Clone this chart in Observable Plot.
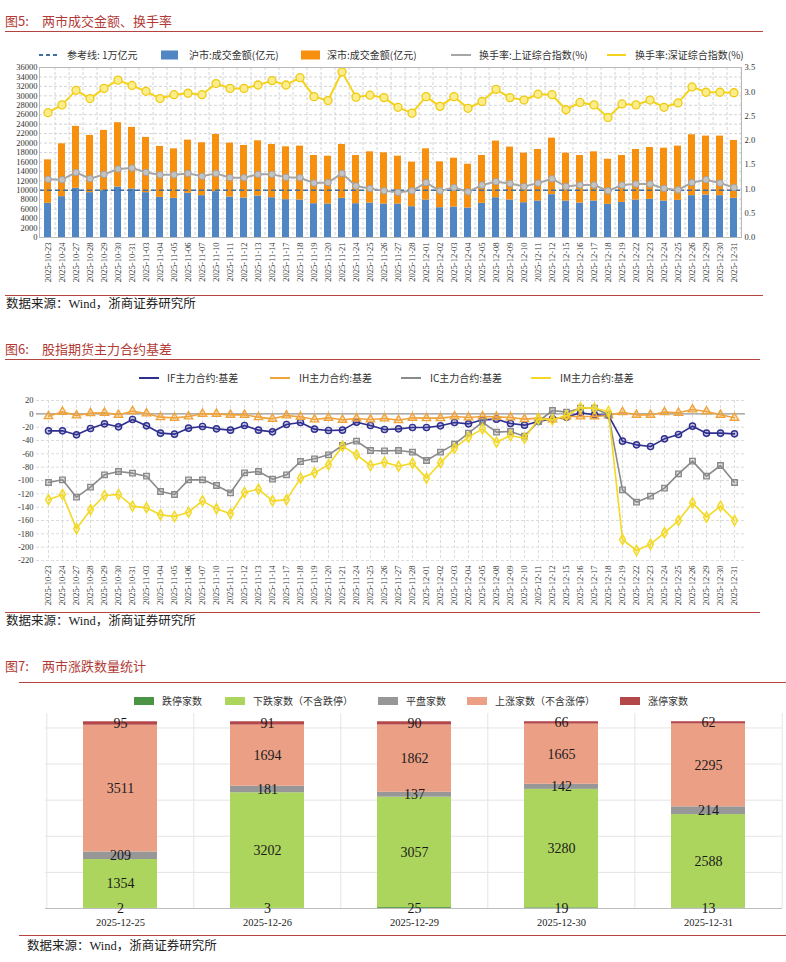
<!DOCTYPE html>
<html><head><meta charset="utf-8">
<script src="https://cdn.jsdelivr.net/npm/d3@7"></script>
<script src="https://cdn.jsdelivr.net/npm/@observablehq/plot@0.6"></script>
<style>
html,body{margin:0;padding:0;background:#fff;}
#root{position:relative;width:786px;height:962px;overflow:hidden;font-family:"Liberation Serif","Noto Sans CJK SC",serif;color:#222;}
.abs{position:absolute;white-space:nowrap;}
.title{font-family:"Noto Sans CJK SC",sans-serif;font-size:13px;color:#b23a36;line-height:1;transform:translateY(-50%);}
.src{font-family:"Liberation Serif","Noto Sans CJK SC",serif;font-size:12.5px;color:#222;line-height:1;transform:translateY(-50%);}
.leg{font-family:"Noto Sans CJK SC",sans-serif;font-size:10px;color:#333;line-height:1;transform:translateY(-50%);}
.sw{position:absolute;transform:translateY(-50%);}
.hr{position:absolute;height:0;border-top:1.3px solid #b5433f;}
#root svg.plotsvg{position:absolute;left:0;}
</style></head><body><div id="root"></div>
<script>
// ---------- Chart 1 data: 两市成交金额、换手率 ----------
const dates = ["2025-10-23","2025-10-24","2025-10-27","2025-10-28","2025-10-29","2025-10-30","2025-10-31",
"2025-11-03","2025-11-04","2025-11-05","2025-11-06","2025-11-07","2025-11-10","2025-11-11","2025-11-12","2025-11-13","2025-11-14",
"2025-11-17","2025-11-18","2025-11-19","2025-11-20","2025-11-21","2025-11-24","2025-11-25","2025-11-26","2025-11-27","2025-11-28",
"2025-12-01","2025-12-02","2025-12-03","2025-12-04","2025-12-05","2025-12-08","2025-12-09","2025-12-10","2025-12-11","2025-12-12",
"2025-12-15","2025-12-16","2025-12-17","2025-12-18","2025-12-19","2025-12-22","2025-12-23","2025-12-24","2025-12-25","2025-12-26",
"2025-12-29","2025-12-30","2025-12-31"];
const shTurnover = [7230,8650,10420,9500,9920,10700,10280,9500,8500,8290,9360,8860,9710,8580,8360,8790,8430,8010,7940,7160,7090,8290,7160,7300,7090,7090,6520,
7940,6310,6450,6240,7230,8430,7940,7370,7730,9070,7730,7300,7730,7020,7440,7940,8080,7730,7870,8860,9000,8860,8290];
const szTurnover = [9210,11190,13110,12120,12760,13610,13040,11690,10780,10490,11260,11200,12120,11410,11130,11690,11270,11200,11410,10200,10130,11410,10200,10840,10840,10130,9430,
10840,9710,10350,9280,10130,11980,11200,10490,10910,11980,10130,10060,10410,9560,9920,10700,10980,11190,11480,12900,12470,12610,12260];
const shRate = [1.20,1.19,1.34,1.21,1.30,1.41,1.43,1.34,1.29,1.29,1.32,1.26,1.32,1.23,1.23,1.30,1.30,1.24,1.23,1.12,1.13,1.32,1.06,1.01,0.96,0.93,0.96,
1.13,0.96,1.03,0.94,1.08,1.15,1.11,1.05,1.12,1.21,1.05,1.08,1.08,0.96,1.08,1.10,1.10,1.01,0.98,1.13,1.19,1.12,1.03];
const szRate = [2.57,2.73,3.03,2.86,3.07,3.24,3.13,3.01,2.86,2.94,2.97,2.94,3.17,3.07,3.07,3.14,3.23,3.14,3.29,2.90,2.82,3.41,2.89,2.93,2.88,2.68,2.56,
2.90,2.70,2.90,2.66,2.80,3.05,2.88,2.83,2.95,2.94,2.63,2.78,2.73,2.47,2.75,2.73,2.83,2.68,2.77,3.10,2.99,2.99,2.98];
const refLine = 10000;
const volTicks = d3.range(0, 36001, 2000);
const rateTicks = [0,0.5,1,1.5,2,2.5,3,3.5];
const mkts = ["沪市:成交金额(亿元)","深市:成交金额(亿元)"];

// ---------- Chart 2 data: 股指期货主力合约基差 ----------
const ifBasis = [-25.5,-25.5,-31.5,-22,-15,-19.5,-8.5,-18,-29,-30.5,-21.5,-19,-22.5,-24.5,-17.5,-24.5,-27,-16,-13,-23,-25,-24.5,-12.5,-17.5,-23.5,-22.5,
-20.5,-20.5,-18,-13,-15,-9,-8,-14.5,-17,-11.5,-7.5,-5,1.5,-1.5,-2.5,-41,-46.5,-49,-37.5,-31,-18.5,-29,-29,-30];
const ihBasis = [-3.5,3,-2.5,1,1.5,-1.5,4,0.5,-5,-6,-4,0,0,-1.5,-1.5,-5,-7.5,-2.5,-4.5,-8.5,-6,-9,-7,-8.5,-7,-9.5,
-6,-6.5,-6.5,-4,-5.5,-4,-4.5,-5.5,-8,-6.5,-8.5,-4,-4,-4,-2.5,2.5,-1.5,-1.5,2.5,1.5,6.5,3.5,-1.5,-6];
const icBasis = [-103,-99,-125,-110,-91.5,-86.5,-89,-93.5,-116.5,-121,-99,-99,-107.5,-118.5,-88.5,-86.5,-98,-91.5,-71.5,-67.5,-61.5,-47.5,-41,-55,-55.5,-55,
-57.5,-70,-57.5,-45.5,-29,-12.5,-27.5,-26.5,-33.5,-11.5,5,2.5,8.5,8.5,-1.5,-114,-132.5,-123.5,-111.5,-90,-71,-93.5,-77.5,-103];
const imBasis = [-129,-121,-172.5,-144,-122.5,-121,-138.5,-141,-151.5,-154,-147.5,-130.5,-142.5,-150,-118,-113,-130.5,-129,-96.5,-88.5,-76.5,-48.5,-61.5,-77.5,-72.5,-78.5,
-74,-96.5,-73.5,-51.5,-35,-22.5,-42.5,-32.5,-36.5,-7.5,-9,-2.5,9,8.5,3.5,-188.5,-205,-195.5,-178.5,-160,-133.5,-155,-138.5,-160];
const basisNames = ["IF主力合约:基差","IH主力合约:基差","IC主力合约:基差","IM主力合约:基差"];
const basisTicks = d3.range(-220, 21, 20);

// ---------- Chart 3 data: 两市涨跌数量统计 ----------
const days3 = ["2025-12-25","2025-12-26","2025-12-29","2025-12-30","2025-12-31"];
const cats3 = ["跌停家数","下跌家数（不含跌停）","平盘家数","上涨家数（不含涨停）","涨停家数"];
const limitDown = [2,3,25,19,13];
const downCnt = [1354,3202,3057,3280,2588];
const flatCnt = [209,181,137,142,214];
const upCnt = [3511,1694,1862,1665,2295];
const limitUp = [95,91,90,66,62];
const grid3 = [1000,2000,3000,4000,5000];

// ---------- helpers ----------
const root = d3.select("#root");
function txt(cls,x,y,s){ root.append("div").attr("class","abs "+cls).style("left",x+"px").style("top",y+"px").text(s); }
function hr(x1,x2,y){ root.append("div").attr("class","hr").style("left",x1+"px").style("top",y+"px").style("width",(x2-x1)+"px"); }
function swRect(x,y,color,w,h){ root.append("div").attr("class","sw").style("left",x+"px").style("top",y+"px").style("width",w+"px").style("height",h+"px").style("background",color); }
function swLine(x,y,color,w,dash){
  const s = root.append("svg").attr("class","sw").style("left",x+"px").style("top",y+"px").attr("width",w).attr("height",6);
  const l = s.append("line").attr("x1",0).attr("x2",w).attr("y1",3).attr("y2",3).attr("stroke",color).attr("stroke-width",2);
  if (dash) l.attr("stroke-dasharray",dash);
}
function place(svg, top){ svg.classList.add("plotsvg"); svg.style.top = top+"px"; svg.style.position="absolute"; root.node().appendChild(svg); }

// ---------- Chart 1 ----------
txt("title",5,20,"图5:"); txt("title",42,20,"两市成交金额、换手率");
hr(5,763,31);
swLine(39,55,"#3f6fa0",20,"4,3"); txt("leg",67,55,"参考线: 1万亿元");
swRect(161,55,"#4f86c3",17,9); txt("leg",189,55,mkts[0]);
swRect(301,55,"#f8900f",19,9); txt("leg",327,55,mkts[1]);
swLine(451,55,"#a6a6a6",20); txt("leg",479,55,"换手率:上证综合指数(%)");
swLine(607,55,"#f5d31a",19); txt("leg",635,55,"换手率:深证综合指数(%)");

const k = 36000/3.5;
const vol = dates.flatMap((d,i)=>[{date:d,mkt:mkts[0],v:shTurnover[i]},{date:d,mkt:mkts[1],v:szTurnover[i]}]);
const rate = dates.map((d,i)=>({date:d,sh:shRate[i],sz:szRate[i]}));
const W=786, mL1=39, mR1=45, pI=0.5, pO=0.1;
const step1=(W-mL1-mR1)/(dates.length-pI+2*pO);
const c1 = Plot.plot({
  width:W, height:237, marginTop:7, marginBottom:60, marginLeft:mL1, marginRight:mR1,
  style:{fontFamily:"Liberation Serif, serif", fontSize:"8.5px", color:"#333", background:"transparent", overflow:"visible"},
  x:{type:"band", domain:dates, paddingInner:pI, paddingOuter:pO},
  y:{domain:[0,36000]},
  color:{domain:mkts, range:["#4f86c3","#f8900f"]},
  marks:[
    Plot.gridY(volTicks,{stroke:"#d4d4d4",strokeOpacity:1,strokeDasharray:"3,2"}),
    Plot.gridX({stroke:"#d4d4d4",strokeOpacity:1,strokeDasharray:"3,2",dx:step1/2}),
    Plot.barY(vol,{x:"date",y:"v",fill:"mkt",order:mkts}),
    Plot.ruleY([refLine],{stroke:"#3f6fa0",strokeWidth:1.5,strokeDasharray:"5,3"}),
    Plot.line(rate,{x:"date",y:d=>d.sh*k,stroke:"#a6a6a6",strokeWidth:2}),
    Plot.dot(rate,{x:"date",y:d=>d.sh*k,r:3.3,fill:"#c2c2c2",stroke:"#a0a0a0",strokeWidth:1}),
    Plot.line(rate,{x:"date",y:d=>d.sz*k,stroke:"#f5d31a",strokeWidth:2}),
    Plot.dot(rate,{x:"date",y:d=>d.sz*k,r:4,fill:"#fbec8c",stroke:"#efca10",strokeWidth:1.3}),
    Plot.frame({stroke:"#b8b8b8"}),
    Plot.axisY(volTicks,{anchor:"left",tickSize:0,tickPadding:2,tickFormat:d=>String(d),label:null}),
    Plot.axisY(rateTicks.map(v=>v*k),{anchor:"right",tickSize:0,tickPadding:3,tickFormat:d=>(d/k).toFixed(1),label:null}),
    Plot.axisX({tickRotate:-90,tickSize:0,tickPadding:5,label:null})
  ]
});
place(c1, 60);
hr(5,763,295);
txt("src",6,304,"数据来源：Wind，浙商证券研究所");

// ---------- Chart 2 ----------
txt("title",5,348,"图6:"); txt("title",42,348,"股指期货主力合约基差");
hr(5,760,359);
const bColors=["#2f2f8f","#f0a33a","#8a8a8a","#f3d924"];
const bSym=["circle","triangle","square","diamond"];
const legX2=[[139,167],[270,299],[401,430],[531,560]];
basisNames.forEach((n,j)=>{ swLine(legX2[j][0],378,bColors[j],20); txt("leg",legX2[j][1],378,n); });
const bVals=[ifBasis, ihBasis, icBasis, imBasis];
const basis = basisNames.map((s,j)=>dates.map((d,i)=>({date:d,s,v:bVals[j][i]})));
const c2 = Plot.plot({
  width:W, height:225, marginTop:8, marginBottom:57, marginLeft:36, marginRight:41,
  style:{fontFamily:"Liberation Serif, serif", fontSize:"8.5px", color:"#333", background:"transparent", overflow:"visible"},
  x:{type:"point", domain:dates, padding:0.3},
  y:{domain:[-220,20]},
  marks:[
    Plot.gridY(basisTicks,{stroke:"#dcdcdc",strokeOpacity:1,strokeDasharray:"3,2"}),
    Plot.gridX({stroke:"#dcdcdc",strokeOpacity:1,strokeDasharray:"3,2"}),
    Plot.ruleY([0],{stroke:"#9a9a9a",strokeWidth:1.2}),
    ...basis.flatMap((dat,j)=>[
      Plot.line(dat,{x:"date",y:"v",stroke:bColors[j],strokeWidth:1.6}),
      Plot.dot(dat,{x:"date",y:"v",symbol:bSym[j],r:3.1,fill:bColors[j],fillOpacity:0.25,stroke:bColors[j],strokeWidth:1.4})
    ]),
    Plot.axisY(basisTicks,{anchor:"left",tickSize:0,tickPadding:3,tickFormat:d=>String(d),label:null}),
    Plot.axisX({tickRotate:-90,tickSize:0,tickPadding:5,label:null})
  ]
});
place(c2, 392);
hr(5,760,612);
txt("src",6,621,"数据来源：Wind，浙商证券研究所");

// ---------- Chart 3 ----------
txt("title",5,665,"图7:"); txt("title",42,665,"两市涨跌数量统计");
hr(19,786,682);
const c3Colors=["#4a9446","#acd55d","#979797","#eba086","#b4474a"];
const legX3=[[134,162],[225,253],[378,406],[467,495],[620,648]];
cats3.forEach((c,j)=>{ swRect(legX3[j][0],701,c3Colors[j],20,8); txt("leg",legX3[j][1],701,c); });
const vals3=[limitDown,downCnt,flatCnt,upCnt,limitUp];
const long3 = cats3.flatMap((c,j)=>days3.map((d,i)=>({day:d,cat:c,v:vals3[j][i]})));
const mL3=45, mR3=4;
const step3=(W-mL3-mR3)/days3.length;
const c3 = Plot.plot({
  width:W, height:220, marginTop:1, marginBottom:24, marginLeft:mL3, marginRight:mR3,
  style:{fontFamily:"Liberation Serif, serif", fontSize:"10.5px", color:"#222", background:"transparent", overflow:"visible"},
  x:{type:"band", domain:days3, paddingInner:0.5, paddingOuter:0.25},
  y:{domain:[0,5400], axis:null},
  color:{domain:cats3, range:c3Colors},
  marks:[
    Plot.gridY(grid3,{stroke:"#e4e4e4",strokeOpacity:1}),
    Plot.gridX({stroke:"#e4e4e4",strokeOpacity:1,dx:-step3/2}),
    Plot.gridX([days3[days3.length-1]],{stroke:"#e4e4e4",strokeOpacity:1,dx:step3/2}),
    Plot.barY(long3,{x:"day",y:"v",fill:"cat",order:cats3}),
    Plot.ruleY([0],{stroke:"#bdbdbd"}),
    Plot.text(long3,Plot.stackY({x:"day",y:"v",z:"cat",order:cats3,text:d=>String(d.v),fontSize:14,fill:"#1a1a1a"})),
    Plot.axisX({tickSize:0,tickPadding:10,label:null})
  ]
});
place(c3, 712);
hr(19,786,935);
txt("src",27,946,"数据来源：Wind，浙商证券研究所");
</script></body></html>
